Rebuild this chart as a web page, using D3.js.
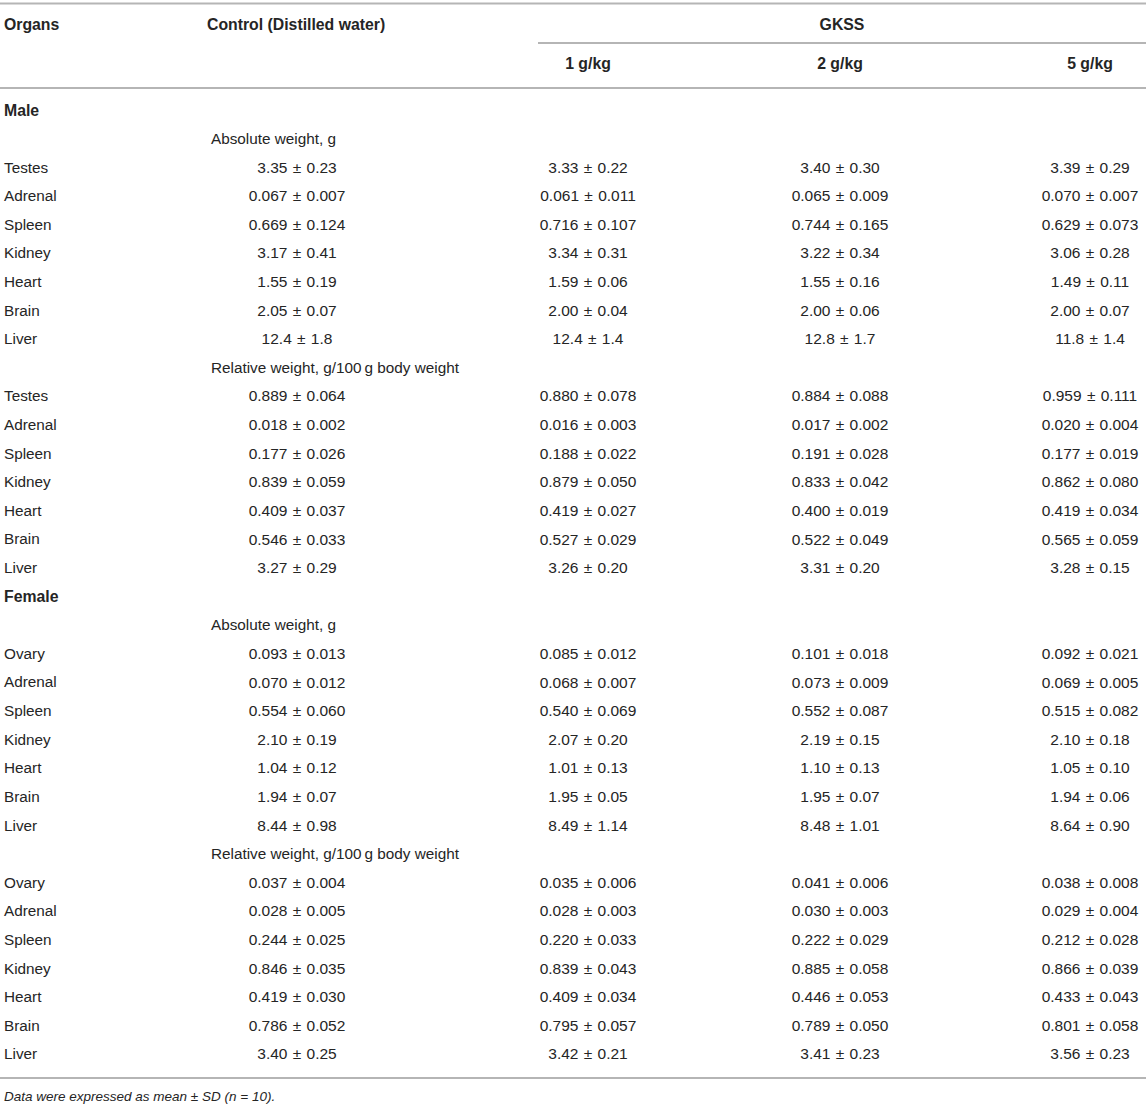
<!DOCTYPE html>
<html>
<head>
<meta charset="utf-8">
<script src="https://cdn.jsdelivr.net/npm/d3@7"></script>
<style>
  body { margin: 0; background: #fff; }
  svg text { font-family: "Liberation Sans", Arial, Helvetica, sans-serif; fill: #252525; }
</style>
</head>
<body>
<svg id="chart" width="1146" height="1107"></svg>
<script>
// column labels
const headerLabels = ["Organs", "Control (Distilled water)", "GKSS"]
const doseLabels = ["1 g/kg", "2 g/kg", "5 g/kg"]
const columnKeys = ["ctrl", "g1", "g2", "g5"]

const sexLabels = ["Male", "Female"]
const blockLabels = ["Absolute weight, g", "Relative weight, g/100\u2009g body weight"]

const maleOrgans = ["Testes", "Adrenal", "Spleen", "Kidney", "Heart", "Brain", "Liver"]
const femaleOrgans = ["Ovary", "Adrenal", "Spleen", "Kidney", "Heart", "Brain", "Liver"]

// values: one row per organ, columns control, 1, 2, 5 g/kg (mean ± SD)
const maleAbsolute = [
    ["3.35 ± 0.23", "3.33 ± 0.22", "3.40 ± 0.30", "3.39 ± 0.29"],
    ["0.067 ± 0.007", "0.061 ± 0.011", "0.065 ± 0.009", "0.070 ± 0.007"],
    ["0.669 ± 0.124", "0.716 ± 0.107", "0.744 ± 0.165", "0.629 ± 0.073"],
    ["3.17 ± 0.41", "3.34 ± 0.31", "3.22 ± 0.34", "3.06 ± 0.28"],
    ["1.55 ± 0.19", "1.59 ± 0.06", "1.55 ± 0.16", "1.49 ± 0.11"],
    ["2.05 ± 0.07", "2.00 ± 0.04", "2.00 ± 0.06", "2.00 ± 0.07"],
    ["12.4 ± 1.8", "12.4 ± 1.4", "12.8 ± 1.7", "11.8 ± 1.4"],
]
const maleRelative = [
    ["0.889 ± 0.064", "0.880 ± 0.078", "0.884 ± 0.088", "0.959 ± 0.111"],
    ["0.018 ± 0.002", "0.016 ± 0.003", "0.017 ± 0.002", "0.020 ± 0.004"],
    ["0.177 ± 0.026", "0.188 ± 0.022", "0.191 ± 0.028", "0.177 ± 0.019"],
    ["0.839 ± 0.059", "0.879 ± 0.050", "0.833 ± 0.042", "0.862 ± 0.080"],
    ["0.409 ± 0.037", "0.419 ± 0.027", "0.400 ± 0.019", "0.419 ± 0.034"],
    ["0.546 ± 0.033", "0.527 ± 0.029", "0.522 ± 0.049", "0.565 ± 0.059"],
    ["3.27 ± 0.29", "3.26 ± 0.20", "3.31 ± 0.20", "3.28 ± 0.15"],
]
const femaleAbsolute = [
    ["0.093 ± 0.013", "0.085 ± 0.012", "0.101 ± 0.018", "0.092 ± 0.021"],
    ["0.070 ± 0.012", "0.068 ± 0.007", "0.073 ± 0.009", "0.069 ± 0.005"],
    ["0.554 ± 0.060", "0.540 ± 0.069", "0.552 ± 0.087", "0.515 ± 0.082"],
    ["2.10 ± 0.19", "2.07 ± 0.20", "2.19 ± 0.15", "2.10 ± 0.18"],
    ["1.04 ± 0.12", "1.01 ± 0.13", "1.10 ± 0.13", "1.05 ± 0.10"],
    ["1.94 ± 0.07", "1.95 ± 0.05", "1.95 ± 0.07", "1.94 ± 0.06"],
    ["8.44 ± 0.98", "8.49 ± 1.14", "8.48 ± 1.01", "8.64 ± 0.90"],
]
const femaleRelative = [
    ["0.037 ± 0.004", "0.035 ± 0.006", "0.041 ± 0.006", "0.038 ± 0.008"],
    ["0.028 ± 0.005", "0.028 ± 0.003", "0.030 ± 0.003", "0.029 ± 0.004"],
    ["0.244 ± 0.025", "0.220 ± 0.033", "0.222 ± 0.029", "0.212 ± 0.028"],
    ["0.846 ± 0.035", "0.839 ± 0.043", "0.885 ± 0.058", "0.866 ± 0.039"],
    ["0.419 ± 0.030", "0.409 ± 0.034", "0.446 ± 0.053", "0.433 ± 0.043"],
    ["0.786 ± 0.052", "0.795 ± 0.057", "0.789 ± 0.050", "0.801 ± 0.058"],
    ["3.40 ± 0.25", "3.42 ± 0.21", "3.41 ± 0.23", "3.56 ± 0.23"],
]
const footnote = "Data were expressed as mean ± SD (n = 10)."

// flatten into table rows
const rows = []
const sections = [
    [sexLabels[0], maleOrgans, [maleAbsolute, maleRelative]],
    [sexLabels[1], femaleOrgans, [femaleAbsolute, femaleRelative]],
]
sections.forEach(([sex, organs, blocks]) => {
    rows.push({ type: "sex", label: sex })
    blocks.forEach((vals, b) => {
        rows.push({ type: "block", label: blockLabels[b] })
        organs.forEach((o, i) => rows.push({ type: "data", label: o, values: vals[i] }))
    })
})

const svg = d3.select("#chart")
const W = +svg.attr("width")

const y = d3.scalePoint()
    .domain(d3.range(rows.length))
    .range([110, 1054])

const x = d3.scaleOrdinal()
    .domain(columnKeys)
    .range([297, 588, 840, 1090])

const labelSize = 15.3
const boldSize = 15.8
const numSize = 15.5
const ruleColor = "#b5b5b5"

// rules
const rules = [
    { x1: 0, x2: W, y: 3.5 },
    { x1: 538, x2: W, y: 43 },
    { x1: 0, x2: W, y: 88 },
    { x1: 0, x2: W, y: 1078 },
]
svg.selectAll(".rule").data(rules).enter().append("line")
    .attr("class", "rule")
    .attr("x1", d => d.x1).attr("x2", d => d.x2)
    .attr("y1", d => d.y).attr("y2", d => d.y)
    .attr("stroke", ruleColor)
    .attr("stroke-width", 2)

// header
const head = svg.append("g").attr("font-weight", "bold").attr("font-size", boldSize)
head.append("text").attr("x", 4).attr("y", 24).attr("dy", "0.35em").text(headerLabels[0])
head.append("text").attr("x", 207).attr("y", 24).attr("dy", "0.35em").text(headerLabels[1])
head.append("text").attr("x", (538 + W) / 2).attr("y", 24).attr("dy", "0.35em")
    .style("text-anchor", "middle").text(headerLabels[2])
head.selectAll(".dose").data(doseLabels).enter().append("text")
    .attr("class", "dose")
    .attr("x", (d, i) => x(columnKeys[i + 1]))
    .attr("y", 63)
    .attr("dy", "0.35em")
    .style("text-anchor", "middle")
    .text(d => d)

// body rows
const body = svg.append("g")
const rowG = body.selectAll(".row").data(rows).enter().append("g")
    .attr("class", "row")
    .attr("transform", (d, i) => "translate(0," + y(i) + ")")

rowG.append("text")
    .attr("x", d => d.type === "block" ? 211 : 4)
    .attr("dy", "0.35em")
    .attr("font-size", d => d.type === "sex" ? boldSize : labelSize)
    .attr("font-weight", d => d.type === "sex" ? "bold" : "normal")
    .text(d => d.label)

rowG.filter(d => d.type === "data").selectAll(".cell")
    .data(d => d.values)
    .enter().append("text")
    .attr("class", "cell")
    .attr("x", (d, i) => x(columnKeys[i]))
    .attr("dy", "0.35em")
    .attr("font-size", numSize)
    .attr("word-spacing", 1)
    .style("text-anchor", "middle")
    .text(d => d)

svg.append("text")
    .attr("x", 4).attr("y", 1096).attr("dy", "0.35em")
    .attr("font-size", 13.5)
    .attr("font-style", "italic")
    .text(footnote)
</script>
</body>
</html>
